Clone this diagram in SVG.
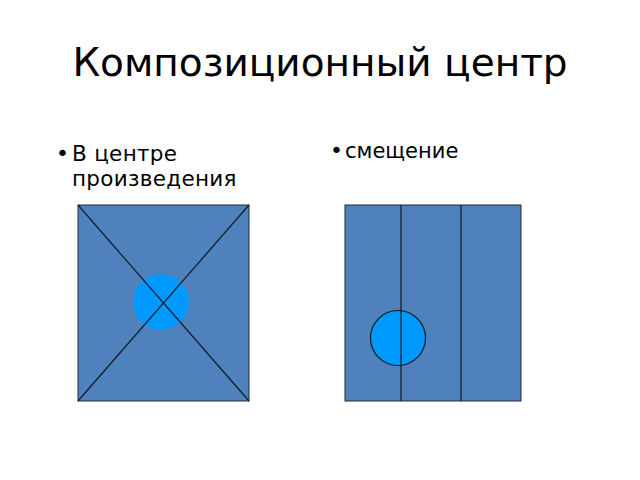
<svg xmlns="http://www.w3.org/2000/svg" width="640" height="480" viewBox="0 0 640 480">
<style>
.t{font-family:"DejaVu Sans",sans-serif;fill:#000}
.box{fill:#4F81BD;stroke:#1f2a3a;stroke-width:1}
.ln{stroke:#111a26;stroke-width:1.2;fill:none}
.dot{fill:#0099FF}
</style>
<rect width="640" height="480" fill="#fff"/>
<text class="t" x="320" y="76" font-size="39" text-anchor="middle">Композиционный центр</text>
<g id="left-label">
<text class="t" x="56" y="161" font-size="22">•</text>
<text class="t" x="72" y="161" font-size="21.5" letter-spacing="0.3">В центре</text>
<text class="t" x="72" y="186" font-size="21.5" letter-spacing="0.3">произведения</text>
</g>
<g id="right-label">
<text class="t" x="330" y="158" font-size="22">•</text>
<text class="t" x="345" y="158" font-size="21">смещение</text>
</g>
<g id="left-square">
<rect class="box" x="78" y="205" width="171" height="196"/>
<circle class="dot" cx="161" cy="302" r="28"/>
</g>
<g id="right-square">
<rect class="box" x="345" y="205" width="176" height="196"/>
<circle class="dot" cx="398" cy="338" r="27.5" stroke="#111a26" stroke-width="1.2"/>
</g>
<g id="connectors">
<line class="ln" x1="78" y1="205" x2="249" y2="401"/>
<line class="ln" x1="249" y1="205" x2="78" y2="401"/>
<line class="ln" x1="401" y1="205" x2="401" y2="401"/>
<line class="ln" x1="461" y1="205" x2="461" y2="401"/>
</g>
</svg>
